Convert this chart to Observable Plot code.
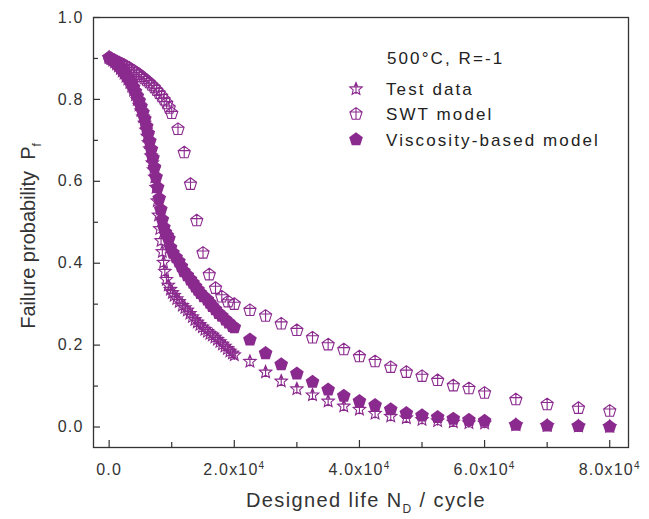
<!DOCTYPE html>
<html><head><meta charset="utf-8">
<script src="https://cdn.jsdelivr.net/npm/d3@7"></script>
<script src="https://cdn.jsdelivr.net/npm/@observablehq/plot@0.6"></script>
<style>
body{margin:0;background:#fff;}
svg{font-family:"Liberation Sans",Arial,sans-serif;}
</style></head><body><div id="chart"></div>
<script>
// ---- data ----
const testN = [0,300,600,900,1200,1500,1800,2100,2400,2700,3000,3300,3600,3900,4200,4500,4800,5100,5400,5650,5900,6100,6300,6500,6700,6900,7100,7300,7500,7700,7900,8100,8300,8500,8700,8900,9150,9450,9800,10100,10400,10800,11200,11700,12100,12500,12900,13300,13700,14100,14500,14900,15300,15700,16100,16500,16900,17300,17700,18100,18500,18900,19300,19700,20000,22500,25000,27500,30000,32500,35000,37500,40000,42500,45000,47500,50000,52500,55000,57500,60000,65000,70000,75000,80000];
const testP = [0.902,0.899,0.895,0.891,0.886,0.881,0.875,0.869,0.863,0.856,0.849,0.841,0.832,0.822,0.811,0.799,0.786,0.772,0.757,0.742,0.725,0.710,0.694,0.679,0.662,0.645,0.628,0.610,0.585,0.552,0.517,0.484,0.455,0.428,0.402,0.380,0.360,0.346,0.336,0.328,0.321,0.313,0.306,0.297,0.291,0.285,0.277,0.269,0.262,0.256,0.250,0.244,0.238,0.233,0.228,0.224,0.219,0.214,0.208,0.202,0.197,0.191,0.185,0.180,0.176,0.160,0.134,0.112,0.093,0.078,0.063,0.051,0.043,0.033,0.026,0.022,0.018,0.015,0.012,0.010,0.009,0.005,0.003,0.002,0.001];

const swtN = [0,400,800,1200,1600,2000,2400,2800,3200,3600,4000,4400,4800,5200,5600,6000,6400,6800,7200,7600,8000,8400,8800,9200,9600,10000,11000,12000,13000,14000,15000,16000,17000,18000,19000,20000,22500,25000,27500,30000,32500,35000,37500,40000,42500,45000,47500,50000,52500,55000,57500,60000,65000,70000,75000,80000];
const swtP = [0.902,0.899,0.896,0.893,0.890,0.887,0.884,0.880,0.877,0.873,0.869,0.865,0.861,0.856,0.851,0.846,0.841,0.835,0.829,0.822,0.815,0.807,0.799,0.790,0.779,0.766,0.727,0.670,0.593,0.504,0.425,0.372,0.339,0.318,0.306,0.300,0.285,0.271,0.252,0.236,0.218,0.201,0.189,0.172,0.160,0.146,0.134,0.124,0.114,0.101,0.094,0.083,0.067,0.055,0.046,0.039];

const viscN = [0,300,600,900,1200,1500,1800,2100,2400,2700,3000,3300,3600,3900,4200,4500,4800,5100,5400,5700,6000,6250,6500,6750,7000,7250,7500,7750,8000,8250,8500,8750,9000,9300,9550,9820,10200,10700,11150,11550,11950,12500,13000,13400,13800,14200,14600,15100,15700,16100,16500,17000,17500,18000,18600,19100,19700,20000,22500,25000,27500,30000,32500,35000,37500,40000,42500,45000,47500,50000,52500,55000,57500,60000,65000,70000,75000,80000];
const viscP = [0.902,0.899,0.896,0.892,0.888,0.883,0.878,0.872,0.866,0.860,0.853,0.846,0.838,0.829,0.819,0.808,0.796,0.783,0.768,0.752,0.734,0.717,0.698,0.678,0.657,0.634,0.610,0.585,0.558,0.531,0.506,0.487,0.475,0.467,0.460,0.438,0.425,0.414,0.404,0.392,0.380,0.370,0.360,0.352,0.343,0.335,0.327,0.319,0.311,0.303,0.295,0.287,0.278,0.271,0.262,0.255,0.246,0.243,0.213,0.180,0.153,0.130,0.110,0.091,0.076,0.063,0.053,0.043,0.034,0.028,0.024,0.020,0.017,0.015,0.005,0.003,0.002,0.001];

const xTicks = [0,20000,40000,60000,80000];
const xMinorTicks = [10000,30000,50000,70000];
const yTicks = [0,0.2,0.4,0.6,0.8,1.0];
const yMinorTicks = [0.1,0.3,0.5,0.7,0.9];
const xTickMantissa = ["0.0","2.0x10","4.0x10","6.0x10","8.0x10"];
const xTickExponent = ["","4","4","4","4"];
const seriesNames = ["Test data","SWT model","Viscosity-based model"];
const conditionText = "500°C, R=-1";

// ---- styling ----
const purple = "#8b2a8e";
const W = 649, H = 519, mL = 93, mR = 21, mT = 17, mB = 72;
const plotW = W - mL - mR, plotH = H - mT - mB;

function pentPts(r){ return d3.range(5).map(k=>{const a=-Math.PI/2+k*2*Math.PI/5; return [r*Math.cos(a), r*Math.sin(a)];}); }
const pentagonFilled = {draw(ctx,size){const r=Math.sqrt(size/Math.PI); const p=pentPts(r); ctx.moveTo(p[0][0],p[0][1]); for(let i=1;i<5;i++) ctx.lineTo(p[i][0],p[i][1]); ctx.closePath();}};
const pentagonCross = {draw(ctx,size){const r=Math.sqrt(size/Math.PI); const p=pentPts(r); ctx.moveTo(p[0][0],p[0][1]); for(let i=1;i<5;i++) ctx.lineTo(p[i][0],p[i][1]); ctx.closePath();
  ctx.moveTo(0,-r); ctx.lineTo(0,r*Math.cos(Math.PI/5)); ctx.moveTo(p[4][0],p[4][1]); ctx.lineTo(p[1][0],p[1][1]);}};
const starCross = {draw(ctx,size){const R=Math.sqrt(size/Math.PI), ri=R*0.45;
  for(let k=0;k<10;k++){const a=-Math.PI/2+k*Math.PI/5, rr=k%2?ri:R; const x=rr*Math.cos(a), y=rr*Math.sin(a); if(k===0) ctx.moveTo(x,y); else ctx.lineTo(x,y);} ctx.closePath();
  const t=-R*Math.sin(Math.PI/10); ctx.moveTo(-R*Math.cos(Math.PI/10),t); ctx.lineTo(R*Math.cos(Math.PI/10),t); ctx.moveTo(0,-R); ctx.lineTo(0,R*0.75);}};

const testData = testN.map((n,i)=>({N:n,P:testP[i]}));
const swtData = swtN.map((n,i)=>({N:n,P:swtP[i]}));
const viscData = viscN.map((n,i)=>({N:n,P:viscP[i]}));

const rStar = 6.6, rSwt = 6.4, rVisc = 7.2;

const chart = Plot.plot({
  width: W, height: H, marginLeft: mL, marginRight: mR, marginTop: mT, marginBottom: mB,
  style: {fontFamily: '"Liberation Sans", Arial, sans-serif', fontSize: "16px", color: "#333", background: "#fff"},
  x: {domain: [-2500, 83000]},
  y: {domain: [-0.05, 1.0]},
  marks: [
    Plot.ruleX(xTicks, {x: d=>d, insetTop: plotH-7, stroke: "#333", strokeWidth: 1.2}),
    Plot.ruleX(xMinorTicks, {x: d=>d, insetTop: plotH-5, stroke: "#333", strokeWidth: 1.2}),
    Plot.ruleY(yTicks, {y: d=>d, insetRight: plotW-7, stroke: "#333", strokeWidth: 1.2}),
    Plot.ruleY(yMinorTicks, {y: d=>d, insetRight: plotW-5, stroke: "#333", strokeWidth: 1.2}),
    Plot.axisX(xTicks, {tickSize: 0, tickPadding: 16, label: null, tickFormat: d => xTickMantissa[xTicks.indexOf(d)], fill: "#333"}),
    Plot.axisY(yTicks, {tickSize: 0, tickPadding: 10, label: null, tickFormat: d => d.toFixed(1), fill: "#333"}),
    Plot.dot(testData, {x: "N", y: "P", symbol: starCross, r: rStar, fill: "none", stroke: purple, strokeWidth: 1.1}),
    Plot.dot(swtData, {x: "N", y: "P", symbol: pentagonCross, r: rSwt, fill: "none", stroke: purple, strokeWidth: 1.1}),
    Plot.dot(viscData, {x: "N", y: "P", symbol: pentagonFilled, r: rVisc, fill: purple, stroke: "none"}),
    Plot.frame({stroke: "#333", strokeWidth: 1.3})
  ]
});
document.getElementById("chart").appendChild(chart);

const svg = d3.select(chart);
// tick label tweaks: letter spacing and superscripts
svg.selectAll('g[aria-label="x-axis tick label"] text, g[aria-label="y-axis tick label"] text').style("letter-spacing","1.2px");
svg.selectAll('g[aria-label="x-axis tick label"] text').each(function(){
  const t = d3.select(this); const i = xTickMantissa.indexOf(t.text());
  if (i >= 0 && xTickExponent[i]) t.append("tspan").attr("dy","-0.6em").style("font-size","10px").text(xTickExponent[i]);
});

// axis titles
const xt = svg.append("text").attr("x", 366).attr("y", 507).attr("text-anchor","middle")
  .style("font-size","20px").style("letter-spacing","1.4px").attr("fill","#333");
xt.append("tspan").text("Designed life N");
xt.append("tspan").attr("dy", 6).style("font-size","12px").text("D");
xt.append("tspan").attr("dy", -6).text("\u00a0/ cycle");

const yt = svg.append("text").attr("transform","translate(35,236) rotate(-90)").attr("text-anchor","middle")
  .style("font-size","20px").attr("fill","#333");
yt.append("tspan").text("Failure probability\u00a0\u00a0P");
yt.append("tspan").attr("dy", 6).style("font-size","12px").text("f");

// legend
const lg = svg.append("g").attr("fill","#222").attr("text-anchor","start").style("font-size","17px").style("letter-spacing","2.1px");
lg.append("text").attr("x", 387).attr("y", 64).text(conditionText);
const syms = [starCross, pentagonCross, pentagonFilled];
const rs = [rStar, rSwt, rVisc];
const ly = [89, 114, 139.5];
seriesNames.forEach((name,i)=>{
  const path = d3.symbol().type(syms[i]).size(Math.PI*rs[i]*rs[i])();
  lg.append("path").attr("d", path).attr("transform", `translate(356,${ly[i]})`)
    .attr("fill", i===2 ? purple : "none").attr("stroke", i===2 ? "none" : purple).attr("stroke-width", 1.1);
  lg.append("text").attr("x", 386).attr("y", ly[i] + 6).text(name);
});
</script></body></html>
